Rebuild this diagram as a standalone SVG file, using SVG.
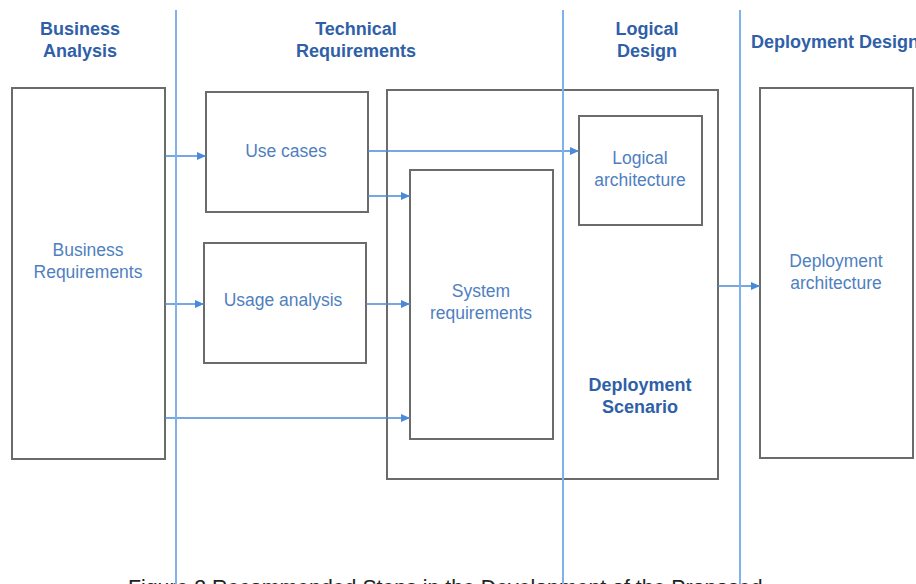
<svg xmlns="http://www.w3.org/2000/svg" width="916" height="584" viewBox="0 0 916 584">
<defs>
<marker id="ah" markerWidth="10" markerHeight="8" refX="9" refY="4" orient="auto" markerUnits="userSpaceOnUse">
<path d="M0,0 L9,4 L0,8 Z" fill="#4a8ad8"/>
</marker>
<style>
.box{fill:#fff;stroke:#6b6b6b;stroke-width:2}
.hdr{font-family:"Liberation Sans",Arial,sans-serif;font-size:18px;font-weight:bold;fill:#2f5fa8;text-anchor:middle}
.lbl{font-family:"Liberation Sans",Arial,sans-serif;font-size:17.5px;fill:#4f7fbf;text-anchor:middle}
.ds{font-family:"Liberation Sans",Arial,sans-serif;font-size:18px;font-weight:bold;fill:#2f5fa8;text-anchor:middle}
.conn{stroke:#4a8ad8;stroke-width:1.3;fill:none;marker-end:url(#ah)}
.lane{stroke:#7fb1ea;stroke-width:2}
.cap{font-family:"Liberation Sans",Arial,sans-serif;font-size:21.3px;fill:#222}
</style>
</defs>
<rect width="916" height="584" fill="#fff"/>
<g id="headers">
<text class="hdr" x="80" y="35">Business</text>
<text class="hdr" x="80" y="57">Analysis</text>
<text class="hdr" x="356" y="35">Technical</text>
<text class="hdr" x="356" y="57">Requirements</text>
<text class="hdr" x="647" y="35">Logical</text>
<text class="hdr" x="647" y="57">Design</text>
<text class="hdr" x="751" y="48" style="text-anchor:start">Deployment Design</text>
</g>
<g id="business-requirements">
<rect class="box" x="12" y="88" width="153" height="371"/>
<text class="lbl" x="88" y="256">Business</text>
<text class="lbl" x="88" y="278">Requirements</text>
</g>
<g id="use-cases">
<rect class="box" x="206" y="92" width="162" height="120"/>
<text class="lbl" x="286" y="157">Use cases</text>
</g>
<g id="usage-analysis">
<rect class="box" x="204" y="243" width="162" height="120"/>
<text class="lbl" x="283" y="306">Usage analysis</text>
</g>
<g id="deployment-scenario">
<rect class="box" x="387" y="90" width="331" height="389"/>
<text class="ds" x="640" y="391">Deployment</text>
<text class="ds" x="640" y="413">Scenario</text>
</g>
<g id="system-requirements">
<rect class="box" x="410" y="170" width="143" height="269"/>
<text class="lbl" x="481" y="297">System</text>
<text class="lbl" x="481" y="319">requirements</text>
</g>
<g id="logical-architecture">
<rect class="box" x="579" y="116" width="123" height="109"/>
<text class="lbl" x="640" y="164">Logical</text>
<text class="lbl" x="640" y="186">architecture</text>
</g>
<g id="deployment-architecture">
<rect class="box" x="760" y="88" width="153" height="370"/>
<text class="lbl" x="836" y="267">Deployment</text>
<text class="lbl" x="836" y="289">architecture</text>
</g>
<g id="connectors">
<line class="conn" x1="165" y1="156" x2="206" y2="156"/>
<line class="conn" x1="165" y1="304" x2="204" y2="304"/>
<line class="conn" x1="165" y1="418" x2="410" y2="418"/>
<line class="conn" x1="368" y1="151" x2="579" y2="151"/>
<line class="conn" x1="368" y1="196" x2="410" y2="196"/>
<line class="conn" x1="366" y1="304" x2="410" y2="304"/>
<line class="conn" x1="718" y1="286" x2="760" y2="286"/>
</g>
<text class="cap" x="128" y="595">Figure 2 Recommended Steps in the Development of the Proposed</text>
<g id="lanes">
<line class="lane" x1="176" y1="10" x2="176" y2="584"/>
<line class="lane" x1="563" y1="10" x2="563" y2="584"/>
<line class="lane" x1="740" y1="10" x2="740" y2="584"/>
</g>
</svg>
